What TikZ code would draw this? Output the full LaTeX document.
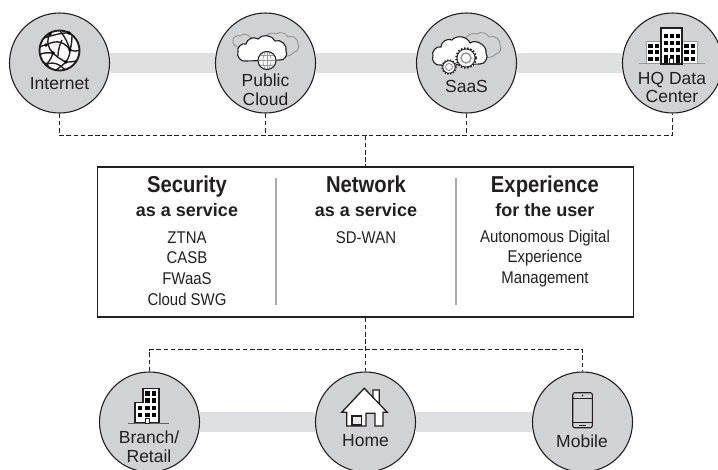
\documentclass[tikz,border=0pt]{standalone}
\usepackage{fontspec}
\setmainfont{Liberation Sans}
\newfontfamily\narrowfont[FakeStretch=0.88]{Liberation Sans}
\usetikzlibrary{backgrounds}
\definecolor{inkblack}{HTML}{231F20}
\definecolor{sitegray}{HTML}{D1D2D4}
\definecolor{bandgray}{HTML}{DFE0E1}
\definecolor{linegray}{HTML}{939598}
\begin{document}
\begin{tikzpicture}[
            x = 1pt, y = -1pt,
            site/.style = {circle, draw = inkblack, line width = 1.1pt, fill = sitegray, minimum size = 100pt, inner sep = 0pt},
            sitetext/.style = {align = center, inner sep = 0pt, text = inkblack, font = \fontsize{17.5}{18.6}\selectfont},
            headtext/.style = {inner sep = 0pt, text = inkblack, text height = 16pt, text depth = 5pt, font = \narrowfont\bfseries\fontsize{23}{24}\selectfont},
            subtext/.style = {inner sep = 0pt, text = inkblack, text height = 13pt, text depth = 4pt, font = \bfseries\fontsize{18}{20}\selectfont},
            listtext/.style = {align = center, inner sep = 0pt, text = inkblack, font = \narrowfont\fontsize{17}{20.7}\selectfont},
            band/.style = {draw = bandgray, line width = 20pt},
            busline/.style = {draw = inkblack, line width = 1.1pt, dash pattern = on 4.6pt off 2.6pt},
            divider/.style = {draw = linegray!80, line width = 1.1pt},
            ink/.style = {draw = inkblack, line width = 1.1pt},
            ghost/.style = {draw = linegray, line width = 0.9pt},
            whitefill/.style = {ink, fill = white},
            window/.style = {fill = black}
        ]
        \useasboundingbox (0,0) rectangle (718,469);
        \node[site] (internet) at (59.5,63) {};
        \node[site] (cloud) at (265.5,63) {};
        \node[site] (saas) at (466.5,63) {};
        \node[site] (hq) at (672.5,63) {};
        \node[site] (branch) at (149.5,422) {};
        \node[site] (home) at (365.5,422) {};
        \node[site] (mobile) at (582.5,422) {};
        \node[draw = inkblack, line width = 1.2pt, minimum width = 536pt, minimum height = 150pt, inner sep = 0pt] (platform) at (365.5,242) {};
        \coordinate (topbus) at (365.5,135.5);
        \coordinate (lowbus) at (365.5,349.5);
        \begin{pgfonlayer}{background}
            \draw[band] (internet) -- (cloud);
            \draw[band] (cloud) -- (saas);
            \draw[band] (saas) -- (hq);
            \draw[band] (branch) -- (home);
            \draw[band] (home) -- (mobile);
        \end{pgfonlayer}

        \draw[busline] (internet.south) |- (topbus) -| (hq.south);
        \draw[busline] (cloud.south) -- (cloud.south |- topbus);
        \draw[busline] (saas.south) -- (saas.south |- topbus);
        \draw[busline] (topbus) -- (platform.north);
        \draw[busline] (platform.south) -- (home.north);
        \draw[busline] (branch.north) |- (lowbus) -| (mobile.north);

        \node[sitetext] (internetname) at (59.5,83.5) {Internet};
        \node[sitetext] (cloudname) at (265.5,90) {Public\\Cloud};
        \node[sitetext] (saasname) at (466.5,86) {SaaS};
        \node[sitetext] (hqname) at (672,87.5) {HQ Data\\Center};
        \node[sitetext] (branchname) at (149,446.5) {Branch/\\Retail};
        \node[sitetext] (homename) at (365.5,441) {Home};
        \node[sitetext] (mobilename) at (582,441) {Mobile};

        \node[headtext] (security) at (187,186.5) {Security};
        \node[subtext] (securitysub) at (187,211.5) {as a service};
        \node[listtext] (securitylist) at (187,268.5) {ZTNA\\CASB\\FWaaS\\Cloud SWG};
        \node[headtext] (network) at (366,186.5) {Network};
        \node[subtext] (networksub) at (366,211.5) {as a service};
        \node[listtext] (networklist) at (366,237.5) {SD-WAN};
        \node[headtext] (experience) at (545,186.5) {Experience};
        \node[subtext] (experiencesub) at (545,211.5) {for the user};
        \node[listtext] (experiencelist) at (545,258.5) {Autonomous Digital\\Experience\\Management};
        \draw[divider] (276,178) -- (276,305);
        \draw[divider] (456,178) -- (456,305);

        \draw[whitefill, line width = 1.9pt] (59.5,50.5) circle (20);
        \begin{scope}
            \clip (59.5,50.5) circle (20);
            \foreach \webpath in {
                {(41,39) .. controls (50,36) and (62,32) .. (72,33)},
                {(50,33) .. controls (46,42) and (48,48) .. (53,53)},
                {(46,45) .. controls (52,42) and (62,38) .. (70,50)},
                {(60,31) .. controls (66,38) and (68,44) .. (70,50)},
                {(39,55) .. controls (44,52) and (48,53) .. (53,53)},
                {(53,53) .. controls (58,58) and (62,60) .. (66,62)},
                {(70,50) .. controls (70,55) and (68,59) .. (66,62)},
                {(70,50) .. controls (74,51) and (77,52) .. (80,50)},
                {(66,62) .. controls (70,62) and (74,62) .. (78,60)},
                {(53,53) .. controls (51,60) and (47,64) .. (44,66)},
                {(44,66) .. controls (52,60) and (60,64) .. (66,71)},
                {(66,62) .. controls (62,66) and (58,68) .. (54,72)},
                {(72,33) .. controls (72,38) and (72,44) .. (70,50)},
                {(40,47) .. controls (42,46) and (44,45) .. (46,45)},
                {(58,56) .. controls (58,50) and (60,44) .. (62,40)},
                {(39,60) .. controls (46,62) and (50,68) .. (52,71)}
            } {
                \draw[ink, line width = 1.4pt] \webpath;
            }
        \end{scope}
        \foreach \dotx/\doty in {46/45, 53/53, 70/50, 66/62, 50/34, 69/33} {
            \fill[black] (\dotx,\doty) circle (1.8);
        }

        \draw[ghost] (240,47) to[bend left=60] (233,41) to[bend left=70] (240,36) to[bend left=50] (250,37) to[bend left=40] (256,42);
        \draw[ghost] (264,40) to[bend left=60] (276,34) to[bend left=50] (288,37) to[bend left=70] (298,44) to[bend left=60] (294,52) to[bend left=30] (284,56);
        \draw[whitefill] (246,61) to[bend left=70] (238,52) to[bend left=70] (246,44) to[bend left=60] (258,39) to[bend left=60] (275,41) to[bend left=70] (286,51) to[bend left=70] (280,60) -- cycle;
        \draw[whitefill] (267,60.5) circle (9);
        \begin{scope}
            \clip (267,60.5) circle (8.5);
            \draw[ghost, line width = 0.6pt] (267,60.5) ellipse (4 and 9);
            \draw[ghost, line width = 0.6pt] (267,51) -- (267,70);
            \foreach \rowy in {55.5,60.5,65.5} {
                \draw[ghost, line width = 0.6pt] (257,\rowy) -- (277,\rowy);
            }
        \end{scope}

        \draw[ghost] (464,43) to[bend left=60] (477,34) to[bend left=50] (489,37) to[bend left=70] (500,45) to[bend left=60] (496,54) to[bend left=30] (484,57);
        \draw[whitefill] (440,65) to[bend left=70] (433,56) to[bend left=70] (441,47) to[bend left=60] (452,40) to[bend left=60] (470,43) to[bend left=70] (486,53) to[bend left=70] (480,64) -- cycle;
        \draw[ink, line width = 1.7pt, dash pattern = on 1.6pt off 1.6pt, fill = white] (466,58) circle (10);
        \draw[ink, line width = 0.8pt, fill = white] (466,58) circle (9);
        \draw[ghost, fill = white, line width = 1.4pt] (466,58) circle (5);
        \draw[ink, line width = 1.5pt, dash pattern = on 1.4pt off 1.4pt, fill = white] (449,67) circle (7);
        \draw[ink, line width = 0.8pt, fill = white] (449,67) circle (6.2);
        \draw[ghost, fill = white] (449,67) circle (3.5);

        \draw[ghost, fill = white] (646,41) rectangle (661,63);
        \draw[ghost, fill = white] (682,41) rectangle (697,63);
        \draw[ghost, line width = 1.1pt] (639,63.5) -- (705,63.5);
        \draw[whitefill] (661,28) rectangle (682,64);
        \foreach \rowy in {33.5,40.5,47.5,54.5} {
            \foreach \colx in {663.5,669.5,675.5} {
                \fill[window] (\colx,\rowy) rectangle +(4.3,4);
            }
        }
        \fill[window] (663.5,58.5) rectangle +(4.3,4);
        \fill[window] (675.5,58.5) rectangle +(4.3,4);
        \draw[ink, line width = 0.8pt] (669.5,63.5) rectangle (673.5,58);
        \foreach \rowy in {43.5,50,56.5} {
            \foreach \colx in {648,654.5,684,690.5} {
                \fill[window] (\colx,\rowy) rectangle +(4.5,4);
            }
        }

        \draw[whitefill] (143,402.7) -- (143,388.7) -- (159,388.7) -- (159,423) -- (135,423) -- (135,402.7) -- cycle;
        \draw[ghost, draw = inkblack!70, line width = 1.1pt] (128,423.5) -- (169,423.5);
        \foreach \rowy in {391,398,405.5,412.5} {
            \foreach \colx in {145,151.5} {
                \fill[window] (\colx,\rowy) rectangle +(4.6,4.6);
            }
        }
        \foreach \rowy in {405.5,412.5} {
            \fill[window] (137.5,\rowy) rectangle +(4.6,4.6);
        }
        \draw[ink, line width = 0.8pt, fill = white] (145,423) rectangle (149,418);

        \draw[whitefill, line width = 1.3pt, line join = miter] (373,399) -- (373,390) -- (379.3,390) -- (379.3,405) -- cycle;
        \draw[whitefill, line width = 1.3pt, line join = miter] (364.3,388.3) -- (387.3,412.3) -- (383,412.3) -- (383,426) -- (375,426) -- (375,413.3) -- (366,413.3) -- (366,426) -- (346.7,426) -- (346.7,412.3) -- (341.7,412.3) -- cycle;
        \draw[ink, fill = sitegray!40] (352,416) rectangle (361.7,425);

        \draw[ink, rounded corners = 2pt, fill = sitegray] (572.7,392.7) rectangle (592.3,427.7);
        \draw[ink, line width = 0.8pt] (572.7,398.3) -- (592.3,398.3);
        \draw[ink, line width = 0.8pt] (572.7,422.3) -- (592.3,422.3);
        \fill[inkblack] (582.5,395.5) circle (0.8);
        \draw[ink, line width = 0.8pt] (579,425) -- (586,425);
    \end{tikzpicture}
\end{document}
